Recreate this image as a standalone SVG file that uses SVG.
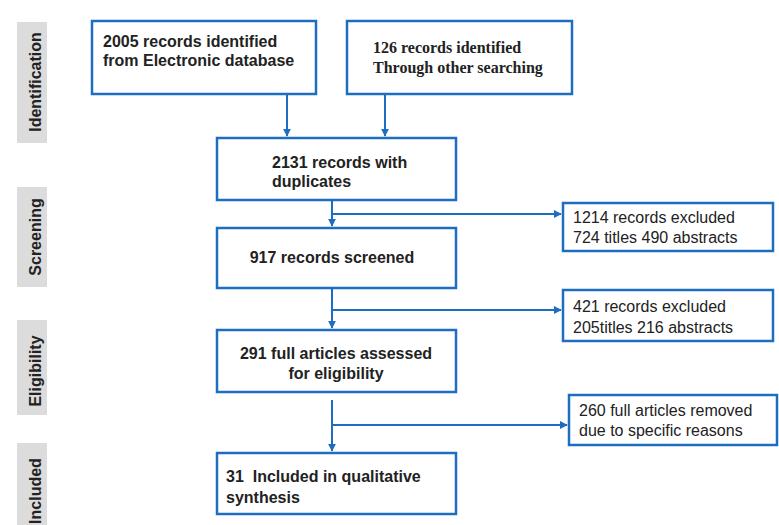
<svg xmlns="http://www.w3.org/2000/svg" width="779" height="525" viewBox="0 0 779 525">
<style>
.box{fill:#fff;stroke:#1d6ec1;stroke-width:2.5}
.con{fill:none;stroke:#1d6ec1;stroke-width:2}
.lab{fill:#dcdcdc}
.lt{font-family:"Liberation Sans",Arial,sans-serif;font-weight:bold;font-size:16px;fill:#222}
.bt{font-family:"Liberation Sans",Arial,sans-serif;font-weight:bold;font-size:16px;fill:#222}
.tt{font-family:"Liberation Serif","Times New Roman",serif;font-weight:bold;font-size:16px;fill:#222}
.rt{font-family:"Liberation Sans",Arial,sans-serif;font-size:16px;fill:#222}
</style>
<defs>
<marker id="ah" viewBox="0 0 10 10" refX="9" refY="5" markerWidth="4" markerHeight="4" orient="auto"><path d="M0,0 L10,5 L0,10 z" fill="#1d6ec1"/></marker>
</defs>
<rect width="779" height="525" fill="#fff"/>
<g id="labels">
<g id="lab-identification"><rect class="lab" x="17" y="22" width="30" height="121"/><text class="lt" transform="translate(41,82) rotate(-90)" text-anchor="middle">Identification</text></g>
<g id="lab-screening"><rect class="lab" x="17" y="187" width="30" height="100"/><text class="lt" transform="translate(41,237) rotate(-90)" text-anchor="middle">Screening</text></g>
<g id="lab-eligibility"><rect class="lab" x="17" y="320" width="30" height="95"/><text class="lt" transform="translate(41,371) rotate(-90)" text-anchor="middle">Eligibility</text></g>
<g id="lab-included"><rect class="lab" x="17" y="443" width="30" height="82"/><text class="lt" transform="translate(41,491) rotate(-90)" text-anchor="middle">Included</text></g>
</g>
<g id="connectors">
<path class="con" d="M287,94 V136" marker-end="url(#ah)"/>
<path class="con" d="M385,94 V136" marker-end="url(#ah)"/>
<path class="con" d="M332,200 V226" marker-end="url(#ah)"/>
<path class="con" d="M332,214 H561" marker-end="url(#ah)"/>
<path class="con" d="M332,288 V328" marker-end="url(#ah)"/>
<path class="con" d="M332,310 H561" marker-end="url(#ah)"/>
<path class="con" d="M332,400 V451" marker-end="url(#ah)"/>
<path class="con" d="M332,425 H567" marker-end="url(#ah)"/>
</g>
<g id="n1"><rect class="box" x="92" y="21" width="224" height="73"/><text class="bt" x="103" y="47">2005 records identified</text><text class="bt" x="103" y="66">from Electronic database</text></g>
<g id="n2"><rect class="box" x="347" y="21" width="225" height="73"/><text class="tt" x="373" y="53">126 records identified</text><text class="tt" x="373" y="73">Through other searching</text></g>
<g id="n3"><rect class="box" x="217" y="138" width="239" height="62"/><text class="bt" x="272" y="168">2131 records with</text><text class="bt" x="272" y="187">duplicates</text></g>
<g id="n4"><rect class="box" x="217" y="228" width="239" height="60"/><text class="bt" x="332" y="263" text-anchor="middle">917 records screened</text></g>
<g id="n5"><rect class="box" x="563" y="203" width="210" height="48"/><text class="rt" x="573" y="223">1214 records excluded</text><text class="rt" x="573" y="243">724 titles 490 abstracts</text></g>
<g id="n6"><rect class="box" x="563" y="290" width="210" height="51"/><text class="rt" x="573" y="312">421 records excluded</text><text class="rt" x="573" y="333">205titles 216 abstracts</text></g>
<g id="n7"><rect class="box" x="217" y="330" width="239" height="62"/><text class="bt" x="336" y="359" text-anchor="middle">291 full articles assessed</text><text class="bt" x="336" y="379" text-anchor="middle">for eligibility</text></g>
<g id="n8"><rect class="box" x="569" y="395" width="208" height="50"/><text class="rt" x="579" y="416">260 full articles removed</text><text class="rt" x="579" y="436">due to specific reasons</text></g>
<g id="n9"><rect class="box" x="217" y="453" width="239" height="61"/><text class="bt" x="226" y="482" xml:space="preserve">31  Included in qualitative</text><text class="bt" x="226" y="503">synthesis</text></g>
</svg>
